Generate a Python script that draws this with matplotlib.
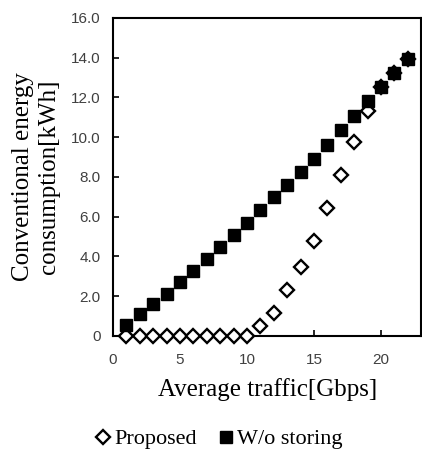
import matplotlib.pyplot as plt

traffic = list(range(1, 23))
proposed = [0, 0, 0, 0, 0, 0, 0, 0, 0, 0,
            0.49, 1.16, 2.30, 3.48, 4.76, 6.42, 8.10, 9.78, 11.34, 12.50, 13.23, 13.95]
wo_storing = [0.54, 1.09, 1.60, 2.10, 2.69, 3.26, 3.87, 4.45, 5.06, 5.70, 6.34,
              6.97, 7.61, 8.25, 8.91, 9.63, 10.37, 11.08, 11.80, 12.50, 13.23, 13.95]

y_ticks = [0, 2, 4, 6, 8, 10, 12, 14, 16]
y_tick_labels = ['0', '2.0', '4.0', '6.0', '8.0', '10.0', '12.0', '14.0', '16.0']
x_ticks = [0, 5, 10, 15, 20]

serif = 'Liberation Serif'

fig = plt.figure(figsize=(4.22, 4.49), dpi=100)
ax = fig.add_axes([0.268, 0.252, 0.730, 0.708])

p1, = ax.plot(traffic, proposed, linestyle='none', marker='D', markersize=7,
              markerfacecolor='white', markeredgecolor='black', markeredgewidth=1.7,
              label='Proposed', zorder=3, clip_on=False)
p2, = ax.plot(traffic, wo_storing, linestyle='none', marker='s', markersize=9,
              markerfacecolor='black', markeredgecolor='black',
              label='W/o storing', zorder=4, clip_on=False)

ax.set_xlim(0, 23)
ax.set_ylim(0, 16)
ax.set_xticks(x_ticks)
ax.set_yticks(y_ticks)
ax.set_yticklabels(y_tick_labels)
ax.tick_params(direction='in', length=4, width=1.2, labelsize=11,
               labelcolor='#404040')
ax.tick_params(axis='x', pad=12)
ax.tick_params(axis='y', pad=9)
for lab in ax.get_xticklabels() + ax.get_yticklabels():
    lab.set_family('Liberation Sans')
for s in ax.spines.values():
    s.set_linewidth(1.5)

ax.set_xlabel('Average traffic[Gbps]', family=serif, fontsize=18, labelpad=8)
ax.set_ylabel('Conventional energy\nconsumption[kWh]', family=serif, fontsize=18,
              labelpad=8, linespacing=1.25)

fig.legend(handles=[p1, p2], loc='center', bbox_to_anchor=(0.52, 0.022), ncol=2,
           frameon=False, prop={'family': serif, 'size': 16}, handlelength=0.6,
           handletextpad=0.2, columnspacing=1.0)

fig.savefig('out.png', dpi=100)
